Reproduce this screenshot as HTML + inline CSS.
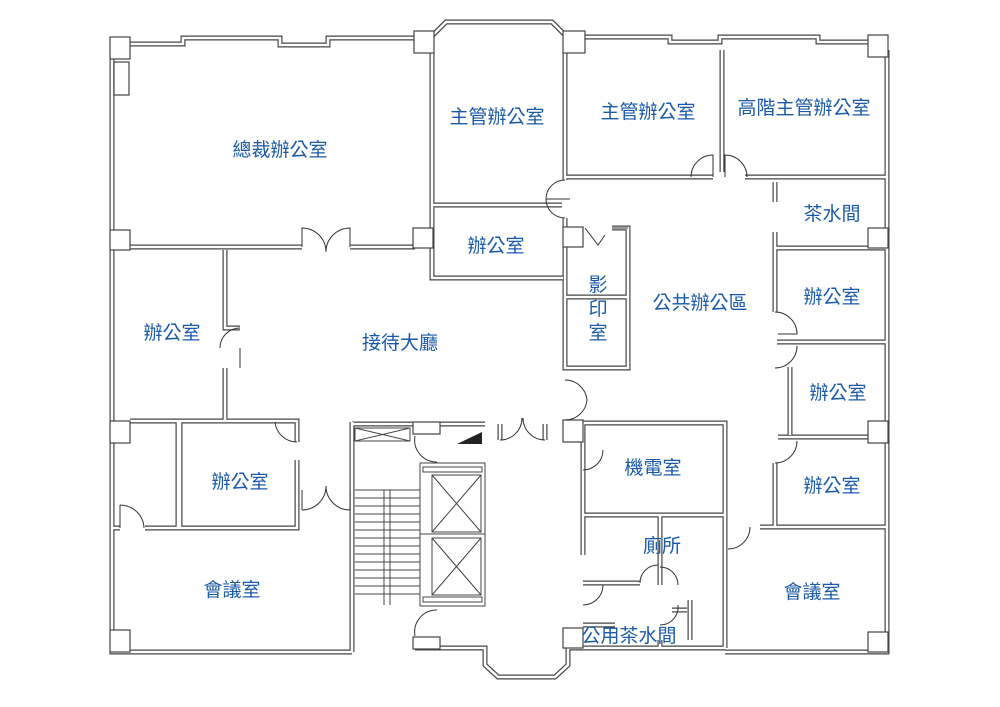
<!DOCTYPE html>
<html><head><meta charset="utf-8"><style>
html,body{margin:0;padding:0;background:#fff;}
svg{display:block}
text{font-family:"Liberation Sans","Noto Sans CJK TC",sans-serif;font-size:19px;fill:#1a5aa8;text-anchor:middle}
</style></head><body>
<svg width="1000" height="707" viewBox="0 0 1000 707">
<defs>
<g id="walls">
<path d="M112,37 V652 H352"/>
<path d="M120,44 H183 V38 H280 V45 H328 V38 H415"/>
<path d="M432,36 L446,22 H552 L566,36"/>
<path d="M585,37 H670 V42 H720 V37 H818 V42 H872"/>
<path d="M887,50 V652 H725"/>
<path d="M568,648 H725"/>
<path d="M415,648 H485 V665 L498,677 H555 L568,665 V648"/>
<path d="M130,247 H302 M350,247 H415"/>
<path d="M432,50 V278 H563 M432,205 H562"/>
<path d="M565,50 V180 M565,218 V235"/>
<path d="M565,177 H713 M745,177 H887 M722,50 V172"/>
<path d="M565,228 V368 H628 V228 H612 M565,297 H628"/>
<path d="M775,182 V202 M775,232 V312"/>
<path d="M775,248 H887 M777,342 H887 M790,367 V435 M778,437 H887 M775,463 V527 M760,527 H887"/>
<path d="M225,250 V328 H240 M225,368 V420"/>
<path d="M130,421 H297 V442 M297,460 V528 H180 V421 M178,421 V528 H145 M120,528 H113"/>
<path d="M352,422 V652"/>
<path d="M352,424 H485 M500,424 V440 M545,424 V440 M565,423 H725 V648"/>
<path d="M583,423 V555 M583,515 H725 M660,515 V585 M583,583 H640 M583,625 H615 M660,640 V648 M690,600 V640 M672,610 H687"/>
</g>
</defs>
<g fill="none" stroke="#444" stroke-width="5" stroke-linejoin="miter"><use href="#walls"/></g>
<g fill="none" stroke="#fff" stroke-width="2.6"><use href="#walls"/></g>

<g fill="#fff" stroke="#444" stroke-width="1.2">
<rect x="110" y="37" width="20" height="22"/>
<rect x="414" y="31" width="20" height="22"/>
<rect x="563" y="31" width="22" height="22"/>
<rect x="868" y="35" width="20" height="22"/>
<rect x="110" y="230" width="20" height="20"/>
<rect x="413" y="228" width="20" height="20"/>
<rect x="563" y="227" width="20" height="20"/>
<rect x="868" y="228" width="20" height="20"/>
<rect x="110" y="421" width="20" height="22"/>
<rect x="868" y="421" width="20" height="22"/>
<rect x="110" y="630" width="20" height="22"/>
<rect x="868" y="632" width="20" height="20"/>
<rect x="563" y="420" width="20" height="22"/>
<rect x="413" y="422" width="27" height="12"/>
<rect x="413" y="637" width="27" height="12"/>
<rect x="563" y="628" width="20" height="20"/>
<rect x="114" y="62" width="15" height="33"/>
</g>
<g fill="none" stroke="#333" stroke-width="1">
<path d="M302,247 V228 A24,24 0 0 1 326,252 M350,247 V228 A24,24 0 0 0 326,252"/>
<path d="M565,180 A19,19 0 0 0 546,199 H570 M565,218 A19,19 0 0 1 546,199"/>
<path d="M713,177 V155 A22,22 0 0 0 691,177 M725,177 V155 A22,22 0 0 1 747,177"/>
<path d="M612,228 L628,228 M585,228 L598,245 L605,235"/>
<path d="M775,312 A22,22 0 0 1 797,334 H778 M775,368 A22,22 0 0 0 797,346"/>
<path d="M775,463 A22,22 0 0 0 797,441"/>
<path d="M240,328 A20,20 0 0 0 220,348 M240,368 V348"/>
<path d="M297,442 A22,22 0 0 1 275,422"/>
<path d="M302,510 A24,24 0 0 0 326,486 M350,510 A24,24 0 0 1 326,486 M302,490 V510 M350,490 V510"/>
<path d="M120,505 A24,24 0 0 1 144,528 M120,505 V528"/>
<path d="M500,440 A22,22 0 0 0 522,418 M545,440 A22,22 0 0 1 523,418"/>
<path d="M565,380 A22,22 0 0 1 587,400 A22,22 0 0 1 565,420"/>
<path d="M583,470 A20,20 0 0 0 603,450"/>
<path d="M415,436 A22,22 0 0 0 437,462 M415,636 A22,22 0 0 1 437,610"/>
<path d="M583,605 A20,20 0 0 0 603,585"/>
<path d="M640,583 A18,18 0 0 1 658,565 M660,567 A18,18 0 0 1 678,585 M660,625 A18,18 0 0 0 678,605"/>
<path d="M750,527 A22,22 0 0 1 728,549"/>
</g>
<g stroke="#444" stroke-width="1" fill="none">
<rect x="355" y="428" width="55" height="13"/>
<path d="M355,428 L410,441 M355,441 L410,428"/>
<path d="M355,490 H420 M384,490 V605 M390,490 V605"/>
<path d="M355,498H420 M355,506H420 M355,514H420 M355,522H420 M355,530H420 M355,538H420 M355,546H420 M355,554H420 M355,562H420 M355,570H420 M355,578H420 M355,586H420 M355,594H420"/>
<rect x="420" y="463" width="65" height="143" fill="#fff"/>
<rect x="423" y="467" width="59" height="5"/>
<rect x="423" y="597" width="59" height="5"/>
<rect x="432" y="475" width="49" height="57"/>
<rect x="432" y="538" width="49" height="57"/>
<path d="M432,475 L481,532 M481,475 L432,532 M432,538 L481,595 M481,538 L432,595 M420,534 H485"/>
</g>
<path d="M457,444 L482,432 V444 Z" fill="#222"/>

<text x="280" y="156">總裁辦公室</text>
<text x="497" y="123">主管辦公室</text>
<text x="648" y="118">主管辦公室</text>
<text x="804" y="114">高階主管辦公室</text>
<text x="496" y="252">辦公室</text>
<text x="832" y="220">茶水間</text>
<text x="172" y="339">辦公室</text>
<text x="400" y="349">接待大廳</text>
<text x="598" y="291">影</text>
<text x="598" y="315">印</text>
<text x="598" y="339">室</text>
<text x="700" y="309">公共辦公區</text>
<text x="832" y="303">辦公室</text>
<text x="838" y="399">辦公室</text>
<text x="240" y="488">辦公室</text>
<text x="653" y="474">機電室</text>
<text x="832" y="492">辦公室</text>
<text x="662" y="552">廁所</text>
<text x="232" y="596">會議室</text>
<text x="812" y="598">會議室</text>
<text x="629" y="642">公用茶水間</text>
</svg>
</body></html>
